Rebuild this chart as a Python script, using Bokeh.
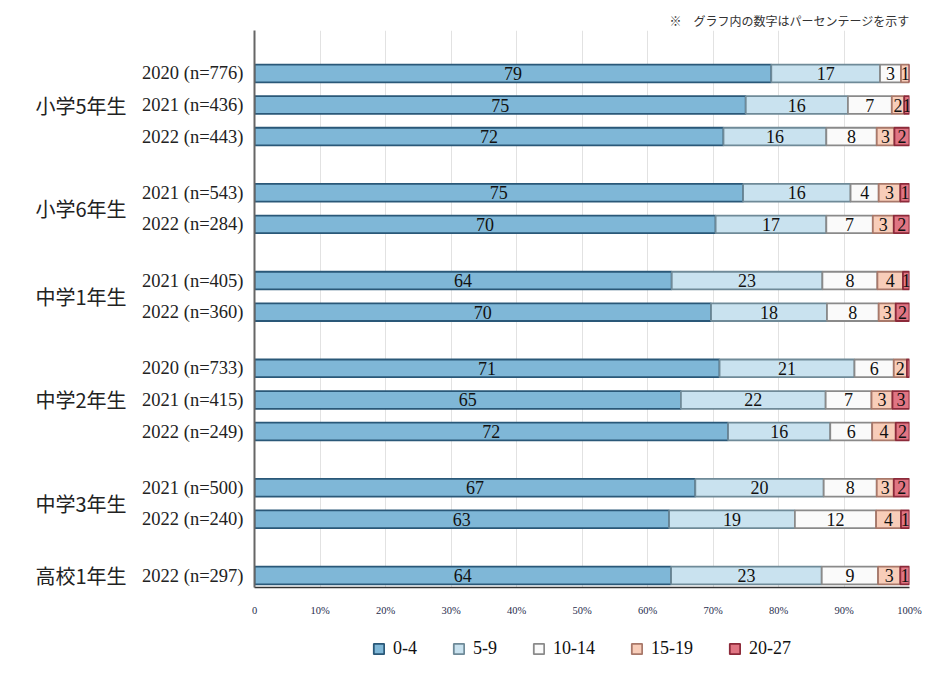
import numpy as np
from bokeh.plotting import figure
from bokeh.layouts import column
from bokeh.models import (Range1d, FixedTicker, LinearAxis, Legend, LegendItem,
                          ColumnDataSource)
from bokeh.core.properties import value
from bokeh.embed import file_html
from bokeh.resources import INLINE

# ---------------- data ----------------
group_names = ["小学5年生", "小学6年生", "中学1年生", "中学2年生", "中学3年生", "高校1年生"]
row_group = [0, 0, 0, 1, 1, 2, 2, 3, 3, 3, 4, 4, 5]
row_labels = ["2020 (n=776)", "2021 (n=436)", "2022 (n=443)",
              "2021 (n=543)", "2022 (n=284)",
              "2021 (n=405)", "2022 (n=360)",
              "2020 (n=733)", "2021 (n=415)", "2022 (n=249)",
              "2021 (n=500)", "2022 (n=240)",
              "2022 (n=297)"]
categories = ["0-4", "5-9", "10-14", "15-19", "20-27"]
v_0_4 = [78.9, 75.0, 71.6, 74.6, 70.4, 63.7, 69.7, 71.0, 65.1, 72.3, 67.3, 63.3, 63.6]
v_5_9 = [16.6, 15.6, 15.7, 16.4, 16.9, 23.0, 17.7, 20.6, 22.1, 15.6, 19.6, 19.2, 23.0]
v_10_14 = [3.2, 6.7, 7.7, 4.3, 7.1, 8.4, 7.9, 6.0, 7.0, 6.4, 8.1, 12.4, 8.6]
v_15_19 = [1.3, 1.9, 2.7, 3.3, 3.2, 3.9, 2.6, 2.0, 3.2, 3.6, 2.6, 3.8, 3.4]
v_20_27 = [0.0, 0.8, 2.3, 1.4, 2.4, 1.0, 2.1, 0.4, 2.6, 2.1, 2.4, 1.3, 1.4]
series = [v_0_4, v_5_9, v_10_14, v_15_19, v_20_27]
x_ticks = [0, 10, 20, 30, 40, 50, 60, 70, 80, 90, 100]
x_tick_labels = ["0", "10%", "20%", "30%", "40%", "50%", "60%", "70%", "80%", "90%", "100%"]
note = "※\u3000グラフ内の数字はパーセンテージを示す"

# ---------------- style ----------------
fill_colors = ["#7fb7d7", "#c9e2ef", "#fafafa", "#f8cdb9", "#e07583"]
line_colors = ["#2a5878", "#6f8a98", "#8a8a8a", "#a8786a", "#8c2a3a"]
SERIF = "Liberation Serif"
CJK = "Noto Sans CJK JP"
ROW = 100
GAP = 178
BAR_H = 56

# row positions (groups separated by a larger gap)
pos = []
cur = 0
prev = None
for g in row_group:
    if prev is not None:
        cur += ROW if g == prev else GAP
    pos.append(cur)
    prev = g
pos_arr = np.array(pos)
rg = np.array(row_group)
group_centers = [int(pos_arr[rg == i].mean()) for i in range(len(group_names))]

p = figure(width=930, height=620,
           x_range=Range1d(0, 100),
           y_range=Range1d(start=pos[-1] + 38, end=-136),
           output_backend="svg", toolbar_location=None,
           min_border_left=254, min_border_right=21,
           min_border_top=30, min_border_bottom=33,
           outline_line_color=None, background_fill_color="white",
           border_fill_color="white")

# bars
vals = np.array(series)
lefts = np.vstack([np.zeros(vals.shape[1]), np.cumsum(vals, axis=0)[:-1]])
rights = np.cumsum(vals, axis=0)
for i, cat in enumerate(categories):
    src = ColumnDataSource(dict(y=pos, left=lefts[i], right=rights[i]))
    p.hbar(y="y", left="left", right="right", height=BAR_H, source=src,
           fill_color=fill_colors[i], line_color=line_colors[i], line_width=1.8)

# value labels
tx, ty, tt = [], [], []
for i in range(len(categories)):
    for j in range(len(pos)):
        v = vals[i, j]
        lab = int(v + 0.5)
        if lab >= 1:
            tx.append((lefts[i, j] + rights[i, j]) / 2)
            ty.append(pos[j])
            tt.append(str(lab))
p.text(x="x", y="y", text="t", source=ColumnDataSource(dict(x=tx, y=ty, t=tt)),
       text_align="center", text_baseline="middle",
       text_font=value(SERIF), text_font_size="18px", text_color="#111111")

# x axis
xa = p.xaxis[0]
xa.ticker = FixedTicker(ticks=x_ticks)
xa.major_label_overrides = {t: l for t, l in zip(x_ticks, x_tick_labels)}
xa.major_tick_line_color = None
xa.minor_tick_line_color = None
xa.axis_line_color = "#333333"
xa.axis_line_width = 1.5
xa.major_label_text_font = "Liberation Sans Narrow"
xa.major_label_text_font_size = "10.5px"
xa.major_label_text_color = "#1f2d4d"
xa.major_label_standoff = 11

p.xgrid.ticker = FixedTicker(ticks=x_ticks)
p.xgrid.grid_line_color = "#e2e2e2"
p.xgrid.grid_line_width = 1
p.ygrid.visible = False

# y axis (years)
ya = p.yaxis[0]
ya.ticker = FixedTicker(ticks=pos)
ya.major_label_overrides = {int(k): l for k, l in zip(pos, row_labels)}
ya.major_tick_line_color = None
ya.minor_tick_line_color = None
ya.axis_line_color = "#666666"
ya.axis_line_width = 2
ya.major_label_text_font = SERIF
ya.major_label_text_font_size = "18.5px"
ya.major_label_text_color = "#222222"
ya.major_label_standoff = 5

# y axis (groups)
ga = LinearAxis(ticker=FixedTicker(ticks=group_centers),
                major_label_overrides={int(k): l for k, l in zip(group_centers, group_names)},
                axis_line_color=None, major_tick_line_color=None, minor_tick_line_color=None,
                major_label_text_font=CJK, major_label_text_font_size="20px",
                major_label_text_color="#222222", major_label_standoff=7)
p.add_layout(ga, "left")

# note
p.title.text = note
p.title.align = "right"
p.title.text_font = CJK
p.title.text_font_size = "12px"
p.title.text_font_style = "normal"
p.title.text_color = "#333333"
p.title.standoff = 4

# legend strip below the chart (its frame is aligned with the chart's frame)
lf = figure(width=930, height=56, x_range=Range1d(0, 1), y_range=Range1d(0, 1),
            output_backend="svg", toolbar_location=None,
            min_border_left=254, min_border_right=21, min_border_top=0, min_border_bottom=0,
            outline_line_color=None, background_fill_color="white",
            border_fill_color="white")
lf.axis.visible = False
lf.grid.visible = False
lrs = []
for i, cat in enumerate(categories):
    # a single zero-width bar outside the visible range: only its legend swatch shows
    lrs.append(lf.hbar(y=[-5], left=[0], right=[0], height=0.5,
                       fill_color=fill_colors[i], line_color=line_colors[i], line_width=1.8))
legend = Legend(items=[LegendItem(label=c, renderers=[r]) for c, r in zip(categories, lrs)],
                orientation="horizontal", location=(118, 17),
                border_line_color=None, background_fill_alpha=0,
                glyph_width=13, glyph_height=13, label_standoff=8, spacing=35,
                label_text_font=SERIF, label_text_font_size="18px",
                label_text_color="#111111", margin=0, padding=0)
lf.add_layout(legend, "center")

layout = column(p, lf, spacing=0)
open("out.html", "w").write(file_html(layout, INLINE))
